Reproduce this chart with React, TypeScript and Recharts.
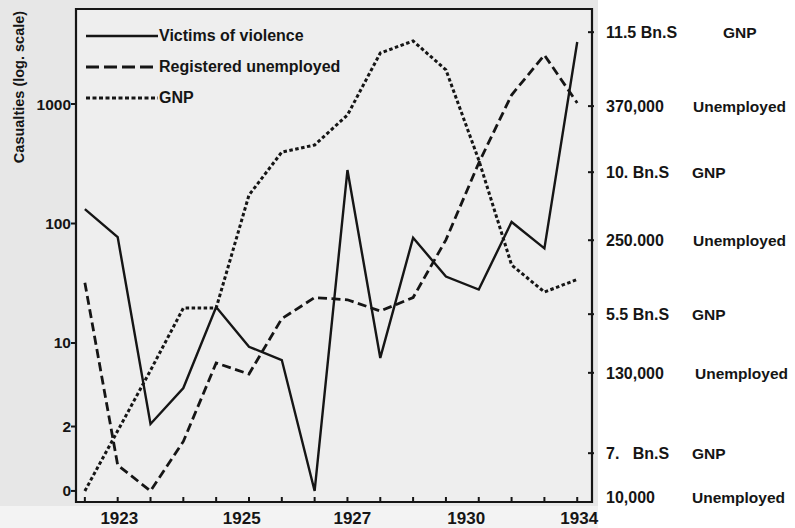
import { LineChart, Line, XAxis, YAxis, ReferenceArea } from "recharts";

const PERIODS = [0, 1, 2, 3, 4, 5, 6, 7, 8, 9, 10, 11, 12, 13, 14, 15];

const VICTIMS = [132, 77, 2.1, 4.2, 20, 9.3, 7.2, 0, 280, 7.5, 76, 36, 28, 103, 62, 3300];
const UNEMPLOYED = [32, 0.95, 0, 1.5, 6.8, 5.5, 16, 24, 23, 18.5, 24, 73, 321, 1190, 2570, 1020];
const GNP = [0, 1.84, 5.9, 19.6, 19.6, 173, 396, 454, 809, 2670, 3370, 1930, 340, 45, 26.7, 34];

const YEAR_LABELS = ["1923", "1925", "1927", "1930", "1934"];
const YEAR_POS = [1.05, 4.78, 8.15, 11.62, 15.06];

const Y_TICKS = [0, 2, 10, 100, 1000];

const RIGHT_VALUES = ["11.5 Bn.S", "370,000", "10. Bn.S", "250.000", "5.5 Bn.S", "130,000", "7.   Bn.S", "10,000"];
const RIGHT_UNITS = ["GNP", "Unemployed", "GNP", "Unemployed", "GNP", "Unemployed", "GNP", "Unemployed"];
const RIGHT_POS = [95.3, 80.3, 66.9, 53.1, 38.1, 26.2, 9.9, 1.0];
const RIGHT_UNIT_X = [117, 87, 86, 87, 86, 89, 86, 86];

const SERIES = [
  { key: "victims", name: "Victims of violence", dash: undefined, legendDash: undefined, width: 2.4 },
  { key: "unemployed", name: "Registered unemployed", dash: "9 4.5", legendDash: "13 5", width: 2.8 },
  { key: "gnp", name: "GNP", dash: "3.5 2.5", legendDash: "4 2.5", width: 3 },
];

// a log axis cannot show 0, so "0" is pinned just below 2
const ZERO_AT = 0.578;
const X_DOMAIN = [-0.27, 15.45];
const Y_DOMAIN = [0.467, 6240];

const FONT = '"Liberation Sans", Arial, sans-serif';
const INK = "#151515";

const toLog = (v: number) => (v <= 0 ? ZERO_AT : v);

const data = PERIODS.map((p, i) => ({
  x: p,
  victims: toLog(VICTIMS[i]),
  unemployed: toLog(UNEMPLOYED[i]),
  gnp: toLog(GNP[i]),
}));

const xTicks = [...PERIODS, ...YEAR_POS].sort((a, b) => a - b);

const XTick = ({ x, y, payload }: any) => {
  const li = YEAR_POS.indexOf(payload.value);
  if (li >= 0) {
    return (
      <text x={x} y={y + 22} textAnchor="middle" fontSize={17} fontWeight="bold" fill={INK} fontFamily={FONT}>
        {YEAR_LABELS[li]}
      </text>
    );
  }
  return <path d={`M${x},${y}V${y - 5}`} stroke={INK} strokeWidth={2} fill="none" />;
};

const LeftTick = ({ x, y, payload }: any) => {
  const v = payload.value;
  return (
    <g>
      <path d={`M${x - 5},${y}H${x}`} stroke={INK} strokeWidth={2} />
      <text x={x - 5} y={y + 5.5} textAnchor="end" fontSize={15.5} fontWeight="bold" fill={INK} fontFamily={FONT}>
        {v === ZERO_AT ? "0" : String(v)}
      </text>
    </g>
  );
};

const RightTick = ({ x, y, payload }: any) => {
  const i = RIGHT_POS.indexOf(payload.value);
  return (
    <g>
      {i < RIGHT_POS.length - 1 && <path d={`M${x - 4},${y}H${x + 2}`} stroke={INK} strokeWidth={2} />}
      <text x={x + 14} y={y + 6} fontSize={16} fontWeight="bold" fill={INK} fontFamily={FONT} style={{ whiteSpace: "pre" }}>
        {RIGHT_VALUES[i]}
      </text>
      <text x={x + 14 + RIGHT_UNIT_X[i]} y={y + 6} fontSize={15.5} fontWeight="bold" fill={INK} fontFamily={FONT}>
        {RIGHT_UNITS[i]}
      </text>
    </g>
  );
};

const YTitle = () => (
  <text
    transform="translate(24,87) rotate(-90)"
    textAnchor="middle"
    fontSize={14.5}
    fontWeight="bold"
    fill={INK}
    fontFamily={FONT}
  >
    Casualties (log. scale)
  </text>
);

export default function App() {
  return (
    <div style={{ position: "fixed", left: 0, top: 0, width: 795, height: 528, background: "#fff", overflow: "hidden" }}>
      {/* scanned-paper tones behind the svg */}
      <div style={{ position: "absolute", left: 0, top: 0, width: 598, height: 506, background: "#e7e7e7" }} />
      <div style={{ position: "absolute", left: 0, top: 506, width: 598, height: 22, background: "#f3f3f3" }} />
      <div style={{ position: "absolute", left: 76, top: 9, width: 516, height: 493, background: "#eeeeee" }} />
      <div style={{ position: "absolute", left: 0, top: 0 }}>
        <LineChart width={795} height={528} data={data} margin={{ top: 9, right: 0, bottom: 0, left: 0 }}>
          <ReferenceArea
            x1={X_DOMAIN[0]}
            x2={X_DOMAIN[1]}
            y1={Y_DOMAIN[0]}
            y2={Y_DOMAIN[1]}
            fill="none"
            stroke={INK}
            strokeWidth={2.2}
            ifOverflow="visible"
          />
          <XAxis
            dataKey="x"
            type="number"
            domain={X_DOMAIN}
            allowDataOverflow
            ticks={xTicks}
            interval={0}
            height={26}
            tickSize={0}
            tickMargin={0}
            axisLine={false}
            tick={<XTick />}
          />
          <YAxis
            type="number"
            scale="log"
            domain={Y_DOMAIN}
            allowDataOverflow
            ticks={Y_TICKS.map(toLog)}
            interval={0}
            width={76}
            tickSize={0}
            tickMargin={0}
            axisLine={false}
            tick={<LeftTick />}
            label={{ content: <YTitle /> }}
          />
          <YAxis
            yAxisId="right"
            orientation="right"
            type="number"
            domain={[0, 100]}
            allowDataOverflow
            ticks={RIGHT_POS}
            interval={0}
            width={203}
            tickSize={0}
            tickMargin={0}
            axisLine={false}
            tick={<RightTick />}
          />
          {SERIES.map((s) => (
            <Line
              key={s.key}
              dataKey={s.key}
              name={s.name}
              type="linear"
              stroke={INK}
              strokeWidth={s.width}
              strokeDasharray={s.dash}
              dot={false}
              activeDot={false}
              isAnimationActive={false}
            />
          ))}
        </LineChart>
      </div>
      <div style={{ position: "absolute", left: 86, top: 20, fontFamily: FONT }}>
        {SERIES.map((s) => (
          <div key={s.key} style={{ display: "flex", alignItems: "center", height: 31 }}>
            <svg width={72} height={6}>
              <line x1={0} x2={72} y1={3} y2={3} stroke={INK} strokeWidth={s.width} strokeDasharray={s.legendDash} />
            </svg>
            <span style={{ fontSize: 16, fontWeight: "bold", color: INK, marginLeft: 1 }}>{s.name}</span>
          </div>
        ))}
      </div>
    </div>
  );
}
